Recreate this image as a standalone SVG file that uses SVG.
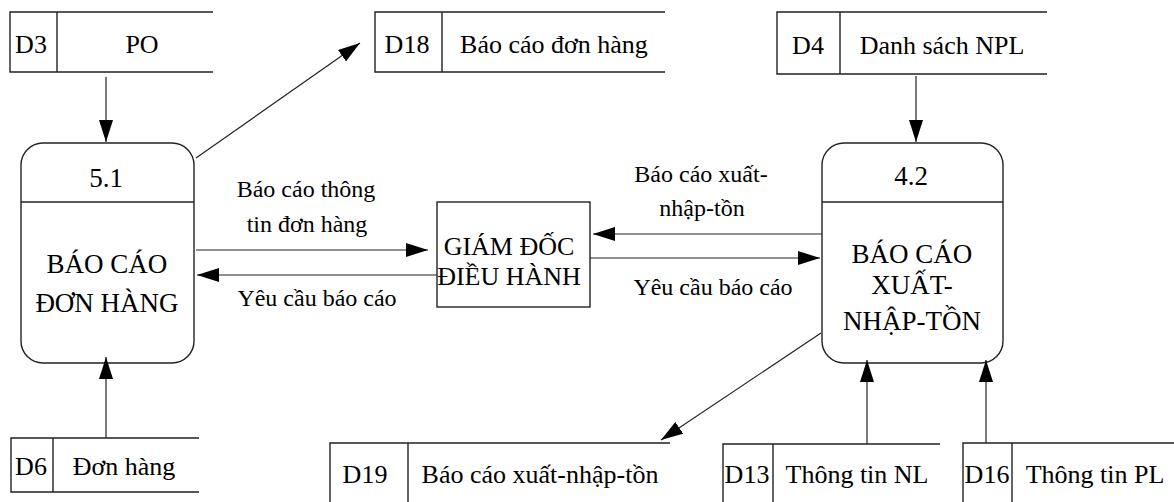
<svg xmlns="http://www.w3.org/2000/svg" width="1174" height="502" viewBox="0 0 1174 502" font-family="'Liberation Serif', Tinos, 'Times New Roman', serif">
<style>
text{font-family:'Liberation Serif',Tinos,'Times New Roman',serif}
.s{fill:none;stroke:#222;stroke-width:1.4}
.t{font-size:26px;fill:#000;text-anchor:middle}
.p{font-size:27px;fill:#000;text-anchor:middle}
.g{font-size:26px;fill:#000;text-anchor:middle}
.l{font-size:24px;fill:#000;text-anchor:middle}
.e{fill:none;stroke:#222;stroke-width:1.2}
</style>
<defs>
<marker id="a" viewBox="0 0 22 14" refX="22" refY="7" markerWidth="22" markerHeight="14" markerUnits="userSpaceOnUse" orient="auto">
<path d="M0,0 L22,7 L0,14 Z" fill="#000"/>
</marker>
</defs>
<rect width="1174" height="502" fill="#fff"/>

<g id="D3">
<path class="s" d="M213,12 H10 V72 H213 M57,12 V72"/>
<text class="t" x="31" y="53">D3</text>
<text class="t" x="142" y="53">PO</text>
</g>
<g id="D18">
<path class="s" d="M665,12 H375 V72 H665 M442,12 V72"/>
<text class="t" x="407" y="53">D18</text>
<text class="t" x="554" y="53">Báo cáo đơn hàng</text>
</g>
<g id="D4">
<path class="s" d="M1047,12 H777 V74 H1047 M840,12 V74"/>
<text class="t" x="808" y="54">D4</text>
<text class="t" x="942" y="54">Danh sách NPL</text>
</g>
<g id="P51">
<rect class="s" x="21" y="143" width="173" height="220" rx="22"/>
<path class="s" d="M21,202 H194"/>
<text class="p" x="106" y="187">5.1</text>
<text class="p" x="107" y="273">BÁO CÁO</text>
<text class="p" x="107" y="312">ĐƠN HÀNG</text>
</g>
<g id="P42">
<rect class="s" x="822" y="143" width="181" height="220" rx="22"/>
<path class="s" d="M822,202 H1003"/>
<text class="p" x="911" y="185">4.2</text>
<text class="p" x="912" y="263">BÁO CÁO</text>
<text class="p" x="912" y="294">XUẤT-</text>
<text class="p" x="912" y="330">NHẬP-TỒN</text>
</g>
<g id="GD">
<rect class="s" x="437" y="202" width="153" height="105"/>
<text class="g" x="509" y="255">GIÁM ĐỐC</text>
<text class="g" x="509" y="285">ĐIỀU HÀNH</text>
</g>
<g id="D6">
<path class="s" d="M199,438 H11 V492 H199 M53,438 V492"/>
<text class="t" x="31" y="475">D6</text>
<text class="t" x="124" y="475">Đơn hàng</text>
</g>
<g id="D19">
<path class="s" d="M670,443 H330 V502 M408,443 V502"/>
<text class="t" x="365" y="483">D19</text>
<text class="t" x="540" y="483">Báo cáo xuất-nhập-tồn</text>
</g>
<g id="D13">
<path class="s" d="M940,444 H723 V502 M773,444 V502"/>
<text class="t" x="747" y="483">D13</text>
<text class="t" x="857" y="483">Thông tin NL</text>
</g>
<g id="D16">
<path class="s" d="M1174,443 H963 V502 M1012,443 V502"/>
<text class="t" x="987" y="483">D16</text>
<text class="t" x="1095" y="483">Thông tin PL</text>
</g>

<g id="connectors">
<line class="e" x1="106" y1="77" x2="106" y2="142" marker-end="url(#a)"/>
<line class="e" x1="196" y1="158" x2="360" y2="43" marker-end="url(#a)"/>
<line class="e" x1="916" y1="76" x2="916" y2="142" marker-end="url(#a)"/>
<line class="e" x1="106" y1="438" x2="106" y2="357" marker-end="url(#a)"/>
<line class="e" x1="821" y1="333" x2="661" y2="440" marker-end="url(#a)"/>
<line class="e" x1="867" y1="444" x2="867" y2="360" marker-end="url(#a)"/>
<line class="e" x1="986" y1="443" x2="986" y2="360" marker-end="url(#a)"/>
<line class="e" x1="196" y1="250" x2="428" y2="250" marker-end="url(#a)"/>
<line class="e" x1="437" y1="275" x2="197" y2="275" marker-end="url(#a)"/>
<line class="e" x1="822" y1="234" x2="593" y2="234" marker-end="url(#a)"/>
<line class="e" x1="590" y1="258" x2="820" y2="258" marker-end="url(#a)"/>
<text class="l" x="306" y="197">Báo cáo thông</text>
<text class="l" x="307" y="232">tin đơn hàng</text>
<text class="l" x="317" y="306">Yêu cầu báo cáo</text>
<text class="l" x="701" y="182">Báo cáo xuất-</text>
<text class="l" x="702" y="216">nhập-tồn</text>
<text class="l" x="713" y="295">Yêu cầu báo cáo</text>
</g>
</svg>
